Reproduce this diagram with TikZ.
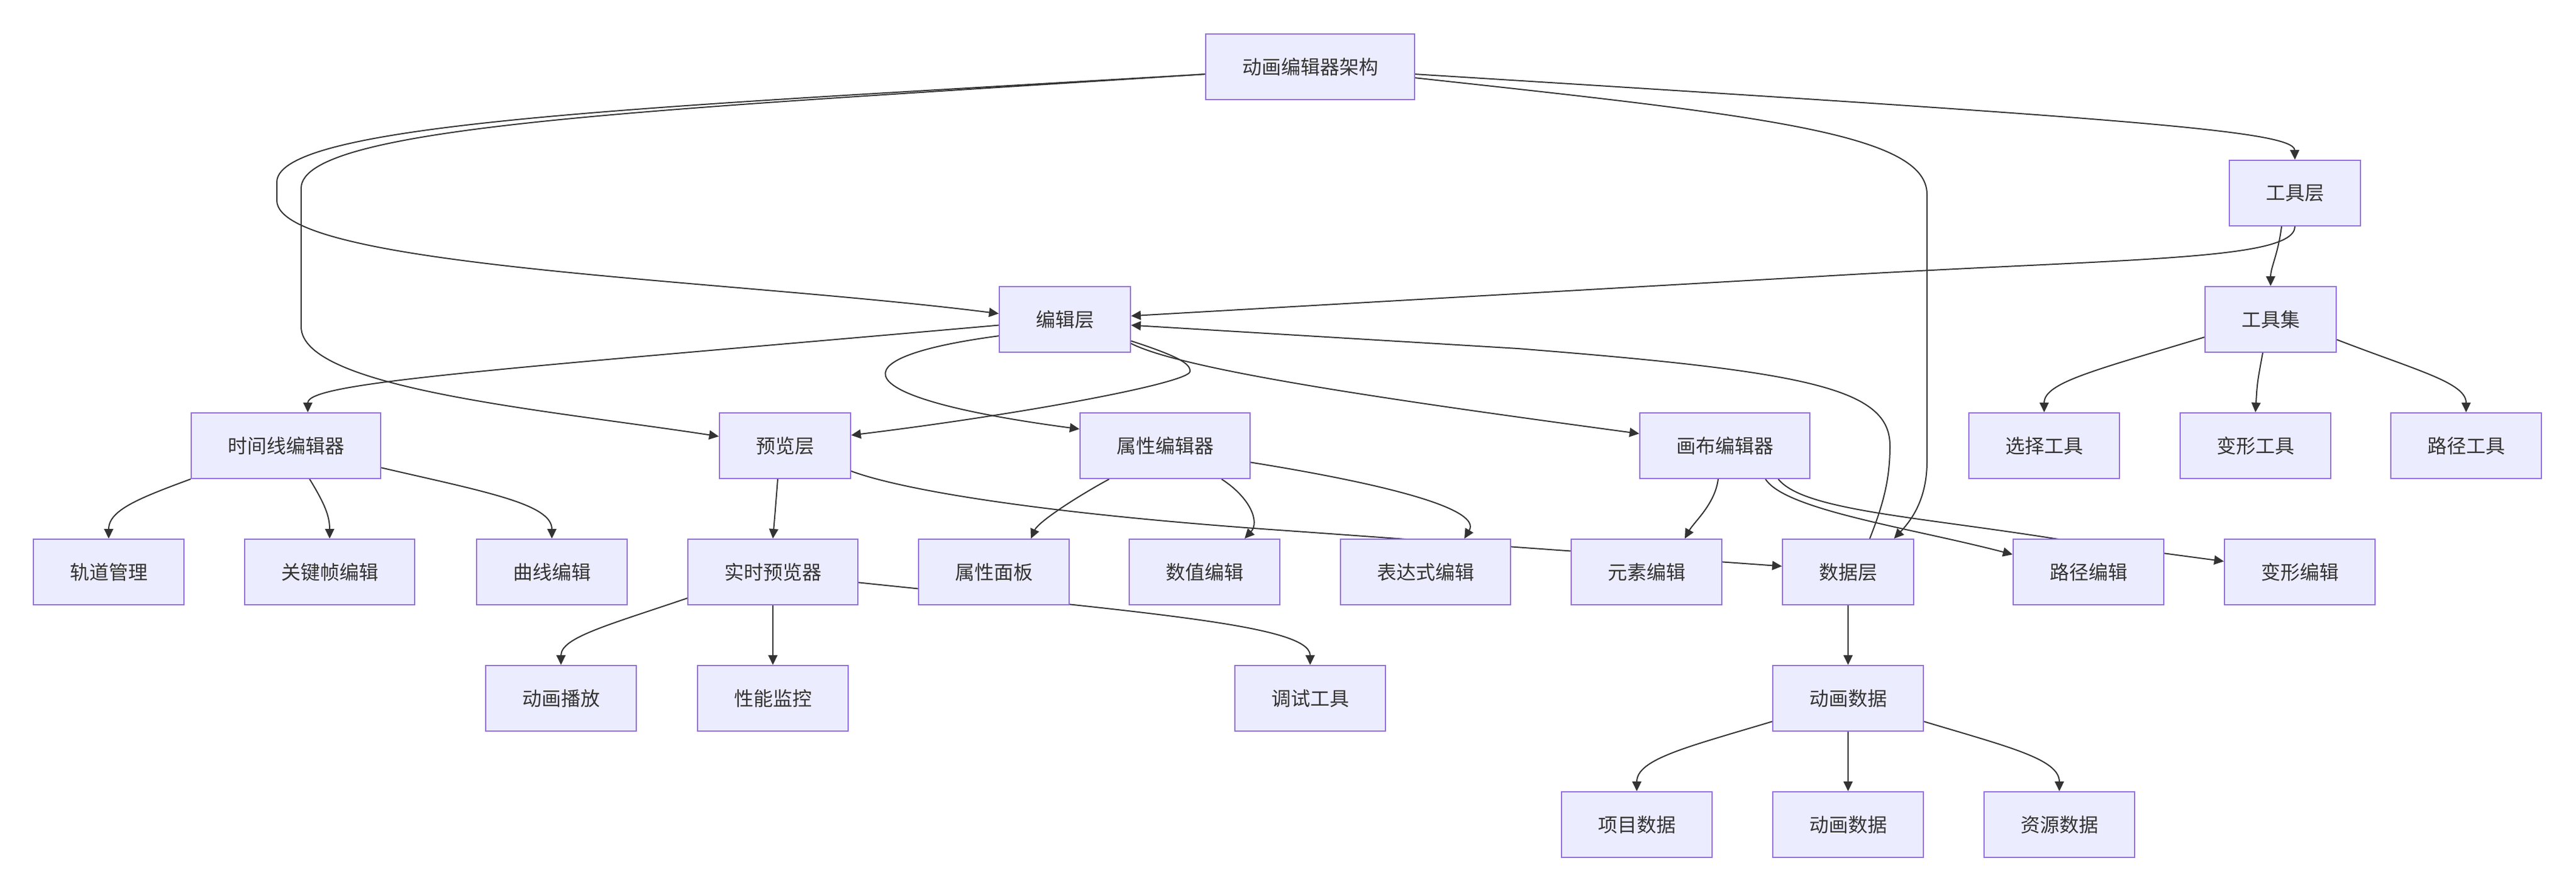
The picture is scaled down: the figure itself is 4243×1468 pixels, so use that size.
\documentclass[tikz,border=0pt]{standalone}
\usepackage{fontspec}
\newfontfamily\cjk{Noto Sans CJK SC}
\usetikzlibrary{arrows.meta,backgrounds}

\definecolor{boxfill}{HTML}{ECECFF}
\definecolor{boxline}{HTML}{9370DB}
\definecolor{ink}{HTML}{333333}

\tikzset{
box/.style={draw=boxline, fill=boxfill, line width=0.5pt, minimum height=27pt, inner xsep=15pt, inner ysep=0pt, text=ink, font=\cjk\fontsize{8pt}{8pt}\selectfont},
link/.style={draw=ink, line width=0.5pt, -{Triangle[length=4pt,width=3.75pt]}}
}

\begin{document}
\begin{tikzpicture}[x=0.25pt,y=-0.25pt]
\useasboundingbox (0,0) rectangle (4243,1468);
%architecture%
\node[box] (arch) at (2158,110) {动画编辑器架构};
%couches%
\node[box] (toolLayer) at (3780,318) {工具层};
\node[box] (editLayer) at (1754,526) {编辑层};
\node[box] (toolSet) at (3740,526) {工具集};
\node[box] (timelineEd) at (471,734) {时间线编辑器};
\node[box] (previewLayer) at (1293,734) {预览层};
\node[box] (propEd) at (1919,734) {属性编辑器};
\node[box] (canvasEd) at (2841,734) {画布编辑器};
\node[box] (selectTool) at (3367,734) {选择工具};
\node[box] (transformTool) at (3715,734) {变形工具};
\node[box] (pathTool) at (4062,734) {路径工具};
%editeurs%
\node[box] (trackMgr) at (179,942) {轨道管理};
\node[box] (keyframeEd) at (543,942) {关键帧编辑};
\node[box] (curveEd) at (909,942) {曲线编辑};
\node[box] (livePreview) at (1273,942) {实时预览器};
\node[box] (propPanel) at (1637,942) {属性面板};
\node[box] (valueEd) at (1984,942) {数值编辑};
\node[box] (exprEd) at (2348,942) {表达式编辑};
\node[box] (elementEd) at (2712,942) {元素编辑};
\node[box] (dataLayer) at (3044,942) {数据层};
\node[box] (pathEd) at (3440,942) {路径编辑};
\node[box] (transformEd) at (3788,942) {变形编辑};
%apercu et donnees%
\node[box] (playback) at (924,1150) {动画播放};
\node[box] (perfMon) at (1273,1150) {性能监控};
\node[box] (debugTool) at (2158,1150) {调试工具};
\node[box] (animData) at (3044,1150) {动画数据};
\node[box] (projectData) at (2696,1358) {项目数据};
\node[box] (animData2) at (3044,1358) {动画数据};
\node[box] (assetData) at (3392,1358) {资源数据};

\begin{scope}[on background layer]
\fill[white] (0,0) rectangle (4243,1468);
%liens%
\draw[link] (arch.184) .. controls (1100,175) and (456,200) .. (456,300) -- (456,330) .. controls (456,440) and (1200,460) .. (editLayer.175);
\draw[link] (arch.184) .. controls (1100,180) and (496,205) .. (496,310) -- (496,538) .. controls (496,640) and (900,675) .. (previewLayer.172);
\draw[link] (arch.354) .. controls (2900,190) and (3174,220) .. (3174,320) -- (3174,760) .. controls (3174,820) and (3150,855) .. (dataLayer.36);
\draw[link] (arch.356) .. controls (3500,195) and (3779,215) .. (toolLayer.north);
\draw[link] ([xshift=-5.5pt]toolLayer.south) .. controls (3752,420) and (3740,440) .. (toolSet.north);
\draw[link] (toolLayer.south) .. controls (3779,430) and (3500,425) .. (3000,455) -- (editLayer.3);
\draw[link] (editLayer.185) .. controls (800,610) and (507,630) .. ([xshift=9pt]timelineEd.north);
\draw[link] (editLayer.194) .. controls (1370,590) and (1390,655) .. (propEd.169);
\draw[link] (editLayer.342) .. controls (1935,585) and (1962,598) .. (1960,612) .. controls (1958,630) and (1700,680) .. (previewLayer.9);
\draw[link] (editLayer.340) .. controls (1950,610) and (2300,660) .. (canvasEd.172);
\draw[link] (dataLayer.57) .. controls (3102,830) and (3113,790) .. (3113,734) .. controls (3113,640) and (2980,612) .. (2500,574) -- (editLayer.355);
\draw[link] (previewLayer.339) .. controls (1480,805) and (1700,845) .. (2121,874) -- (dataLayer.175);
\draw[link] ([xshift=-3pt]previewLayer.south) .. controls (1277,840) .. (livePreview.north);
\draw[link] (dataLayer.south) -- (animData.north);
%timeline%
\draw[link] (timelineEd.south west) .. controls (230,820) and (179,840) .. (trackMgr.north);
\draw[link] ([xshift=9.75pt]timelineEd.south) .. controls (535,830) and (543,850) .. (keyframeEd.north);
\draw[link] (timelineEd.347) .. controls (800,810) and (909,830) .. (curveEd.north);
%proprietes%
\draw[link] ([xshift=-23pt]propEd.south) .. controls (1770,820) and (1710,860) .. ([xshift=15.25pt]propPanel.north);
\draw[link] ([xshift=23.25pt]propEd.south) .. controls (2060,820) and (2075,860) .. ([xshift=16.5pt]valueEd.north);
\draw[link] (propEd.349) .. controls (2300,800) and (2440,840) .. ([xshift=16pt]exprEd.north);
%canevas%
\draw[link] ([xshift=-2.75pt]canvasEd.south) .. controls (2825,830) and (2790,860) .. ([xshift=15.75pt]elementEd.north);
\draw[link] ([xshift=16.75pt]canvasEd.south) .. controls (2940,840) and (3150,870) .. (pathEd.167);
\draw[link] ([xshift=22pt]canvasEd.south) .. controls (2970,840) and (3150,850) .. (3384,887) -- (transformEd.172);
%apercu%
\draw[link] (livePreview.197) .. controls (1000,1030) and (924,1050) .. (playback.north);
\draw[link] (livePreview.south) -- (perfMon.north);
\draw[link] (livePreview.353) .. controls (1900,1010) and (2158,1030) .. (debugTool.north);
%outils%
\draw[link] (toolSet.195) .. controls (3450,610) and (3367,630) .. (selectTool.north);
\draw[link] ([xshift=-3.25pt]toolSet.south) .. controls (3718,630) .. (transformTool.north);
\draw[link] (toolSet.343) .. controls (3980,610) and (4062,630) .. (pathTool.north);
%donnees%
\draw[link] (animData.197) .. controls (2780,1230) and (2696,1250) .. (projectData.north);
\draw[link] (animData.south) -- (animData2.north);
\draw[link] (animData.343) .. controls (3308,1230) and (3392,1250) .. (assetData.north);
\end{scope}
\end{tikzpicture}
\end{document}
